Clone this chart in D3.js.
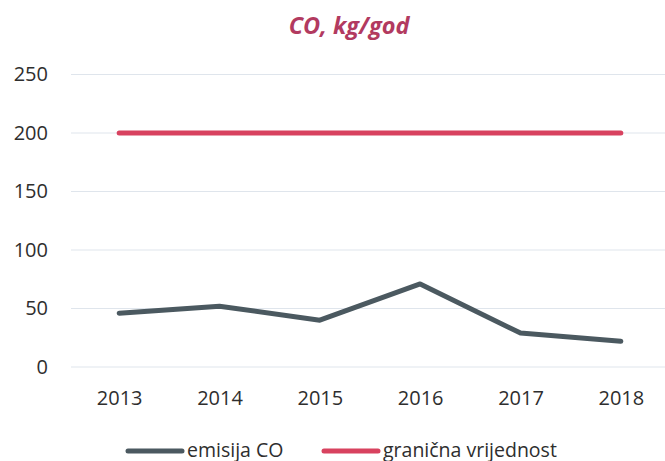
<!DOCTYPE html>
<html>
<head>
<meta charset="utf-8">
<script src="https://cdn.jsdelivr.net/npm/d3@7"></script>
<style>
  html, body { margin: 0; padding: 0; background: #fff; }
  svg { display: block; }
</style>
</head>
<body>
<div id="chart"></div>
<script>
// Annual CO emissions versus the permitted limit
const years = ["2013", "2014", "2015", "2016", "2017", "2018"];
const emisija = [46, 52, 40, 71, 29, 22];
const granica = [200, 200, 200, 200, 200, 200];
const yTicks = [0, 50, 100, 150, 200, 250];
const seriesNames = ["emisija CO", "granična vrijednost"];
const seriesColors = ["#4b5960", "#d8425f"];

const W = 665, H = 461;
const svg = d3.select("#chart").append("svg")
  .attr("width", W).attr("height", H);

const font = "'Open Sans', 'Liberation Sans', sans-serif";
const textColor = "#2e2e2e";

const x = d3.scalePoint().domain(years).range([69, 671]).padding(0.5);
const y = d3.scaleLinear().domain([0, 250]).range([367, 74.5]);

// title
svg.append("text")
  .attr("x", 349).attr("y", 34)
  .attr("text-anchor", "middle")
  .attr("font-family", font)
  .attr("font-size", 23.5)
  .attr("font-weight", "bold")
  .attr("font-style", "italic")
  .attr("fill", "#b23a60")
  .text("CO, kg/god");

// horizontal gridlines
svg.append("g")
  .selectAll("line")
  .data(yTicks)
  .join("line")
  .attr("x1", 71).attr("x2", W)
  .attr("y1", d => y(d)).attr("y2", d => y(d))
  .attr("stroke", "#dfe5ec")
  .attr("stroke-width", 1);

// y axis labels
const yAxis = d3.axisLeft(y).tickValues(yTicks).tickSize(0).tickPadding(0);
svg.append("g")
  .attr("transform", "translate(48,0)")
  .call(yAxis)
  .call(g => g.select(".domain").remove())
  .call(g => g.selectAll("text")
    .attr("font-family", font)
    .attr("font-size", 20)
    .attr("fill", textColor));

// x axis labels
const xAxis = d3.axisBottom(x).tickSize(0).tickPadding(0);
svg.append("g")
  .attr("transform", "translate(0,391)")
  .call(xAxis)
  .call(g => g.select(".domain").remove())
  .call(g => g.selectAll("text")
    .attr("font-family", font)
    .attr("font-size", 20)
    .attr("fill", textColor));

// lines
const line = d3.line().x((d, i) => x(years[i])).y(d => y(d));
[emisija, granica].forEach((vals, i) => {
  svg.append("path")
    .datum(vals)
    .attr("d", line)
    .attr("fill", "none")
    .attr("stroke", seriesColors[i])
    .attr("stroke-width", 5)
    .attr("stroke-linecap", "round")
    .attr("stroke-linejoin", "round");
});

// legend
const legendItems = [
  { x: 128, name: seriesNames[0], color: seriesColors[0] },
  { x: 324, name: seriesNames[1], color: seriesColors[1] }
];
const lg = svg.append("g");
legendItems.forEach(it => {
  lg.append("line")
    .attr("x1", it.x).attr("x2", it.x + 54)
    .attr("y1", 451).attr("y2", 451)
    .attr("stroke", it.color)
    .attr("stroke-width", 5)
    .attr("stroke-linecap", "round");
  lg.append("text")
    .attr("x", it.x + 59).attr("y", 456.5)
    .attr("font-family", font)
    .attr("font-size", 19.5)
    .attr("fill", textColor)
    .text(it.name);
});
</script>
</body>
</html>
